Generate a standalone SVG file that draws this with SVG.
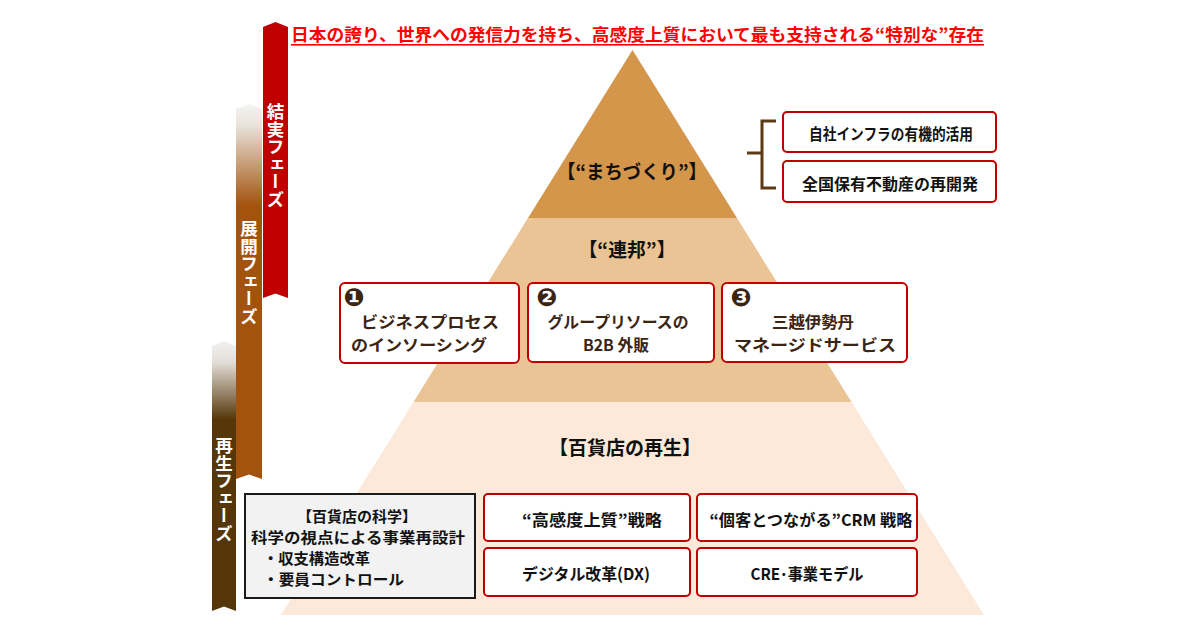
<svg xmlns="http://www.w3.org/2000/svg" width="1200" height="630" viewBox="0 0 1200 630">
<style>
text{font-family:"Noto Sans CJK JP","Noto Sans",sans-serif;font-weight:bold}
.c{text-anchor:middle;dominant-baseline:central}
.lbl{font-size:19px;fill:#111}
.bx{fill:#fff;stroke:#C00000;stroke-width:2}
.t15{font-size:15.5px;fill:#111}
.m{font-size:16px;fill:#3B2412}
.b{font-size:16px;fill:#111}
.s{font-size:14.5px;fill:#111}
.num{font-family:"DejaVu Sans",sans-serif;font-size:25px;fill:#3B2412}
.v{writing-mode:vertical-rl;font-size:17.5px;fill:#fff}
</style>
<defs>
<linearGradient id="gBrown" x1="0" y1="0" x2="0" y2="1">
<stop offset="0" stop-color="#F4F4F4"/>
<stop offset="0.06" stop-color="#E8E1D8"/>
<stop offset="0.27" stop-color="#A3530E"/>
<stop offset="1" stop-color="#A3530E"/>
</linearGradient>
<linearGradient id="gDark" x1="0" y1="0" x2="0" y2="1">
<stop offset="0" stop-color="#F2F2F2"/>
<stop offset="0.08" stop-color="#E2DDD6"/>
<stop offset="0.29" stop-color="#563709"/>
<stop offset="1" stop-color="#563709"/>
</linearGradient>
</defs>
<rect width="1200" height="630" fill="#fff"/>

<g id="pyramid">
<polygon points="281,615 984,615 851.5,402 413.5,402" fill="#FDE9DA"/>
<polygon points="413.5,402 851.5,402 737,218 528,218" fill="#EAC494"/>
<polygon points="528,218 737,218 632.5,50" fill="#D4964A"/>
<text class="c lbl" x="632" y="170" textLength="150" lengthAdjust="spacingAndGlyphs">【“まちづくり”】</text>
<text class="c lbl" x="627" y="248" textLength="97" lengthAdjust="spacingAndGlyphs">【“連邦”】</text>
<text class="c lbl" x="625" y="446">【百貨店の再生】</text>
</g>

<g id="title">
<text x="291" y="41" font-size="17" fill="#FF0000" textLength="693" lengthAdjust="spacingAndGlyphs">日本の誇り、世界への発信力を持ち、高感度上質において最も支持される“特別な”存在</text>
<rect x="291" y="44" width="693" height="1.6" fill="#FF0000"/>
</g>

<g id="phase-kekka">
<polygon points="275.5,22 288,27 288,298 275.5,293.5 263,298 263,27" fill="#C00000"/>
<text class="v" x="275.5" y="103">結実フェーズ</text>
</g>
<g id="phase-tenkai">
<polygon points="249,104 262,109 262,479 249,474.5 236,479 236,109" fill="url(#gBrown)"/>
<text class="v" x="249" y="220">展開フェーズ</text>
</g>
<g id="phase-saisei">
<polygon points="224,341 236,346 236,611 224,606.5 212,611 212,346" fill="url(#gDark)"/>
<text class="v" x="224" y="437">再生フェーズ</text>
</g>

<g id="connectors">
<path d="M747,153 H762 M776,121 H762 V188 H776" fill="none" stroke="#5B3A14" stroke-width="3"/>
</g>

<g id="box-infra">
<rect class="bx" x="783" y="112" width="213" height="40" rx="4"/>
<text class="c t15" x="891" y="133" textLength="164" lengthAdjust="spacingAndGlyphs">自社インフラの有機的活用</text>
</g>
<g id="box-realestate">
<rect class="bx" x="783" y="161" width="213" height="41" rx="4"/>
<text class="c t15" x="890" y="183" textLength="176" lengthAdjust="spacingAndGlyphs">全国保有不動産の再開発</text>
</g>

<g id="box-1">
<rect class="bx" x="340" y="283" width="179" height="80" rx="5"/>
<text class="c num" x="354" y="297">❶</text>
<text class="c m" x="430" y="321" textLength="138" lengthAdjust="spacingAndGlyphs">ビジネスプロセス</text>
<text class="c m" x="419" y="344" textLength="136" lengthAdjust="spacingAndGlyphs">のインソーシング</text>
</g>
<g id="box-2">
<rect class="bx" x="528" y="283" width="186" height="79" rx="5"/>
<text class="c num" x="547" y="297">❷</text>
<text class="c m" x="618" y="321" textLength="141" lengthAdjust="spacingAndGlyphs">グループリソースの</text>
<text class="c m" x="616" y="344" textLength="66" lengthAdjust="spacingAndGlyphs">B2B 外販</text>
</g>
<g id="box-3">
<rect class="bx" x="722" y="283" width="185" height="79" rx="5"/>
<text class="c num" x="741" y="297">❸</text>
<text class="c m" x="813" y="321" textLength="82" lengthAdjust="spacingAndGlyphs">三越伊勢丹</text>
<text class="c m" x="815" y="344" textLength="162" lengthAdjust="spacingAndGlyphs">マネージドサービス</text>
</g>

<g id="box-science">
<rect x="245" y="494" width="230" height="104" fill="#F2F2F2" stroke="#1a1a1a" stroke-width="2"/>
<text class="c s" x="357" y="515" textLength="120" lengthAdjust="spacingAndGlyphs">【百貨店の科学】</text>
<text class="c s" x="358" y="536" textLength="214" lengthAdjust="spacingAndGlyphs">科学の視点による事業再設計</text>
<text class="s" x="263" y="557" dominant-baseline="central" textLength="107" lengthAdjust="spacingAndGlyphs">・収支構造改革</text>
<text class="s" x="263" y="578" dominant-baseline="central" textLength="141" lengthAdjust="spacingAndGlyphs">・要員コントロール</text>
</g>
<g id="box-koukando">
<rect class="bx" x="484" y="494" width="206" height="47" rx="4"/>
<text class="c b" x="592" y="519" textLength="140" lengthAdjust="spacingAndGlyphs">“高感度上質”戦略</text>
</g>
<g id="box-crm">
<rect class="bx" x="697" y="494" width="220" height="47" rx="4"/>
<text class="c b" x="811" y="519" textLength="203" lengthAdjust="spacingAndGlyphs">“個客とつながる”CRM 戦略</text>
</g>
<g id="box-dx">
<rect class="bx" x="484" y="548" width="206" height="48" rx="4"/>
<text class="c b" x="586" y="573" textLength="128" lengthAdjust="spacingAndGlyphs">デジタル改革(DX)</text>
</g>
<g id="box-cre">
<rect class="bx" x="697" y="548" width="220" height="48" rx="4"/>
<text class="c b" x="807" y="573" textLength="113" lengthAdjust="spacingAndGlyphs">CRE･事業モデル</text>
</g>
</svg>
